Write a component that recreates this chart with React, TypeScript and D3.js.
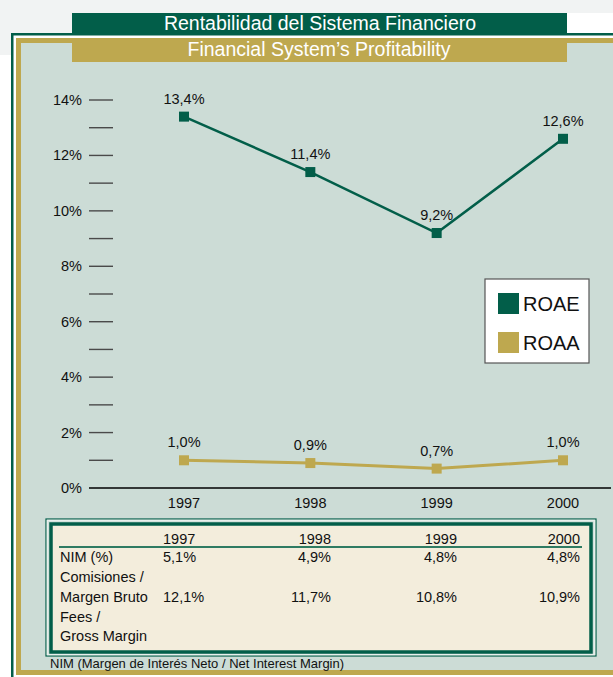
import React from "react";
import * as d3 from "d3";

const years = ["1997", "1998", "1999", "2000"];
const roae = [13.4, 11.4, 9.2, 12.6];
const roaa = [1.0, 0.9, 0.7, 1.0];
const yTicks = d3.range(0, 15, 1);
const nim = ["5,1%", "4,9%", "4,8%", "4,8%"];
const fees = ["12,1%", "11,7%", "10,8%", "10,9%"];
const rowLabels = ["NIM (%)", "Comisiones /", "Margen Bruto", "Fees /", "Gross Margin"];

const DARK = "#025e49";
const GOLD = "#bea84f";
const BG = "#ccdcd6";
const FONT = "'Liberation Sans', Arial, sans-serif";
const FS = 14.5;

const fmt = (v: number) => v.toFixed(1).replace(".", ",") + "%";

const App = () => {
  const width = 613;
  const height = 677;

  const x = d3.scalePoint<string>().domain(years).range([184, 563]);
  const y = d3.scaleLinear().domain([0, 14]).range([488, 100]);

  const line = d3
    .line<number>()
    .x((d, i) => x(years[i]) as number)
    .y((d) => y(d));

  const series = [
    { name: "ROAE", values: roae, color: DARK, w: 2.5 },
    { name: "ROAA", values: roaa, color: GOLD, w: 3 },
  ];

  // table columns: first left aligned, the rest right aligned
  const colX = [163, 331, 457, 580];
  const colAnchor = ["start", "end", "end", "end"];
  const rowY = [557, 577, 597, 617, 636];

  return (
    <svg
      width={width}
      height={height}
      style={{ position: "absolute", left: 0, top: 0, fontFamily: FONT }}
    >
      <rect x={0} y={0} width={width} height={height} fill="#ffffff" />
      <rect x={0} y={0} width={width} height={13} fill="#f1f3f3" />
      <rect x={0} y={0} width={72} height={55} fill="#f1f3f3" />

      {/* frame */}
      <rect x={11} y={33} width={640} height={700} fill={DARK} />
      <rect x={13.5} y={35.5} width={640} height={700} fill="#ffffff" />
      <rect x={16} y={38} width={640} height={637} fill={GOLD} />
      <rect x={21} y={43} width={640} height={627} fill={BG} />

      {/* titles */}
      <rect x={72} y={13} width={495} height={20} fill={DARK} />
      <text x={320} y={30} textAnchor="middle" fill="#fff" fontSize={19.5}>
        Rentabilidad del Sistema Financiero
      </text>
      <rect x={72} y={38} width={495} height={24} fill={GOLD} />
      <text x={319} y={56} textAnchor="middle" fill="#fff" fontSize={19.5}>
        Financial System’s Profitability
      </text>

      {/* y axis */}
      {yTicks.map((t) => (
        <g key={t}>
          {t > 0 && (
            <line x1={89} x2={113} y1={y(t)} y2={y(t)} stroke="#4a4a4a" strokeWidth={1.4} />
          )}
          {t % 2 === 0 && (
            <text x={82} y={y(t) + 5} textAnchor="end" fontSize={FS} fill="#111">
              {t}%
            </text>
          )}
        </g>
      ))}
      <line x1={89} x2={611} y1={y(0)} y2={y(0)} stroke="#000" strokeWidth={1.5} />
      {years.map((yr) => (
        <text key={yr} x={x(yr)} y={508} textAnchor="middle" fontSize={FS} fill="#111">
          {yr}
        </text>
      ))}

      {/* lines */}
      {series.map((s) => (
        <g key={s.name}>
          <path d={line(s.values) || ""} fill="none" stroke={s.color} strokeWidth={s.w} />
          {s.values.map((v, i) => (
            <g key={i}>
              <rect
                x={(x(years[i]) as number) - 5}
                y={y(v) - 5}
                width={10}
                height={10}
                fill={s.color}
              />
              <text
                x={x(years[i])}
                y={y(v) - 13}
                textAnchor="middle"
                fontSize={FS}
                fill="#111"
              >
                {fmt(v)}
              </text>
            </g>
          ))}
        </g>
      ))}

      {/* legend */}
      <rect x={485} y={279} width={104} height={84} fill="#fff" stroke="#555" strokeWidth={1.2} />
      {series.map((s, i) => (
        <g key={s.name}>
          <rect x={498} y={293 + i * 39} width={21} height={21} fill={s.color} />
          <text x={523} y={311 + i * 39} fontSize={20} fill="#111">
            {s.name}
          </text>
        </g>
      ))}

      {/* table */}
      <rect x={46} y={519} width={550} height={137} fill="none" stroke={DARK} strokeWidth={1.2} />
      <rect x={47.5} y={520.5} width={547} height={134} fill="none" stroke="#e8efec" strokeWidth={1.5} />
      <rect x={51} y={524} width={540} height={128} fill="#f3eddc" stroke={DARK} strokeWidth={3.5} />
      <line x1={59} x2={582} y1={547} y2={547} stroke="#2e7b62" strokeWidth={2} />
      {years.map((yr, i) => (
        <text
          key={yr}
          x={colX[i]}
          y={544}
          textAnchor={colAnchor[i]}
          fontSize={FS}
          fill="#111"
        >
          {yr}
        </text>
      ))}
      {rowLabels.map((lab, i) => (
        <text key={lab} x={60} y={rowY[i] + 5} fontSize={FS} fill="#111">
          {lab}
        </text>
      ))}
      {nim.map((v, i) => (
        <text key={"n" + i} x={colX[i]} y={rowY[0] + 5} textAnchor={colAnchor[i]} fontSize={FS} fill="#111">
          {v}
        </text>
      ))}
      {fees.map((v, i) => (
        <text key={"f" + i} x={colX[i]} y={rowY[2] + 5} textAnchor={colAnchor[i]} fontSize={FS} fill="#111">
          {v}
        </text>
      ))}

      <text x={50} y={668} fontSize={13} fill="#111">
        NIM (Margen de Interés Neto / Net Interest Margin)
      </text>
    </svg>
  );
};

export default App;
